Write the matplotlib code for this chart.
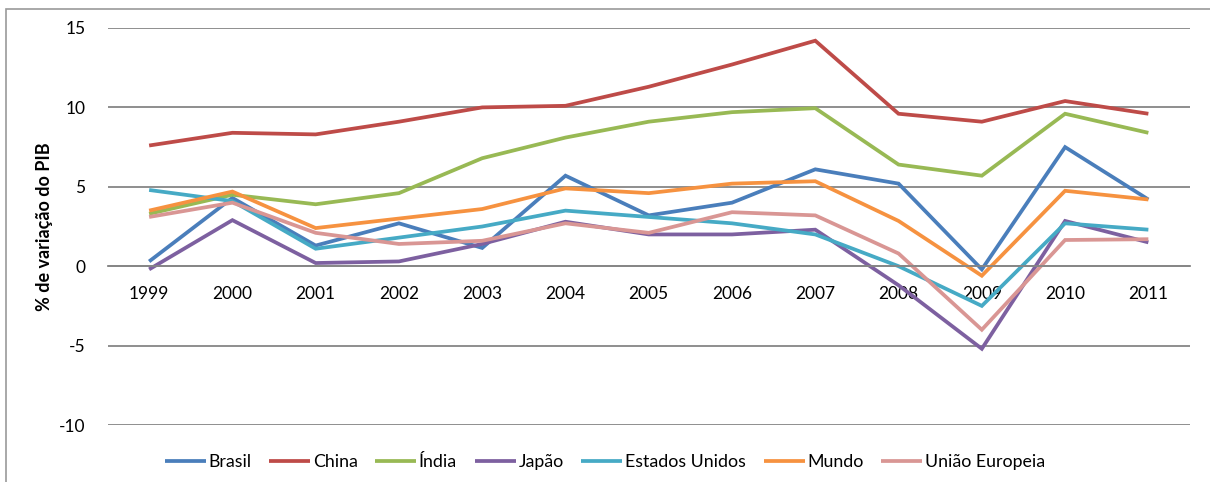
import matplotlib
matplotlib.use("Agg")
import matplotlib.pyplot as plt
from matplotlib.patches import Rectangle

plt.rcParams['font.family'] = ['Lato', 'DejaVu Sans']
plt.rcParams['axes.unicode_minus'] = False

anos = [str(a) for a in range(1999, 2012)]

brasil = [0.3, 4.3, 1.3, 2.7, 1.15, 5.7, 3.2, 4.0, 6.1, 5.2, -0.2, 7.5, 4.2]
china = [7.6, 8.4, 8.3, 9.1, 10.0, 10.1, 11.3, 12.7, 14.2, 9.6, 9.1, 10.4, 9.6]
india = [3.3, 4.5, 3.9, 4.6, 6.8, 8.1, 9.1, 9.7, 9.95, 6.4, 5.7, 9.6, 8.4]
japao = [-0.2, 2.9, 0.2, 0.3, 1.4, 2.8, 2.0, 2.0, 2.3, -1.2, -5.2, 2.85, 1.5]
eua = [4.8, 4.1, 1.1, 1.8, 2.5, 3.5, 3.1, 2.7, 2.0, 0.0, -2.5, 2.7, 2.3]
mundo = [3.5, 4.7, 2.4, 3.0, 3.6, 4.9, 4.6, 5.2, 5.35, 2.85, -0.6, 4.75, 4.2]
ue = [3.1, 4.0, 2.1, 1.4, 1.6, 2.7, 2.1, 3.4, 3.2, 0.8, -4.0, 1.65, 1.7]

series = [
    ("Brasil", brasil, "#4A7EBB"),
    ("China", china, "#BE4B48"),
    ("Índia", india, "#98B954"),
    ("Japão", japao, "#7D60A0"),
    ("Estados Unidos", eua, "#46AAC5"),
    ("Mundo", mundo, "#F69240"),
    ("União Europeia", ue, "#D99694"),
]

fig = plt.figure(figsize=(12.1, 4.82), dpi=100)
ax = fig.add_axes([107.5 / 1210, 1 - 425 / 482, 1082.5 / 1210, 397 / 482])

# moldura externa do gráfico
fig.patches.append(Rectangle((5.5 / 1210, -0.1), 1.2, 1.1 - 9 / 482,
                             transform=fig.transFigure, fill=False,
                             edgecolor="#9a9a9a", linewidth=1.2))

x = list(range(len(anos)))
for nome, vals, cor in series:
    ax.plot(x, vals, color=cor, linewidth=2.7, label=nome,
            solid_joinstyle="miter", solid_capstyle="butt")

ax.set_xlim(-0.5, len(anos) - 0.5)
ax.set_ylim(-10, 15)
ax.set_yticks([-10, -5, 0, 5, 10, 15])
ax.yaxis.grid(True, color="#868686", linewidth=1.3)
ax.set_axisbelow(True)

for s in ["top", "right", "left"]:
    ax.spines[s].set_visible(False)
ax.spines["bottom"].set_position(("data", 0))
ax.spines["bottom"].set_color("#868686")
ax.spines["bottom"].set_linewidth(1.3)

ax.set_xticks(x)
ax.set_xticklabels(anos)
ax.tick_params(axis="x", length=0, pad=14, labelsize=12.5)
ax.tick_params(axis="y", length=0, pad=16, labelsize=12.5)

ax.set_ylabel("% de variação do PIB", fontsize=13, fontweight="bold", labelpad=4)

fig.legend(loc="center", bbox_to_anchor=(0.5, 1 - 462 / 482), ncol=7,
           frameon=False, fontsize=12.8, handlelength=2.3, handletextpad=0.15,
           columnspacing=1.0)

fig.savefig("out.png", dpi=100)
